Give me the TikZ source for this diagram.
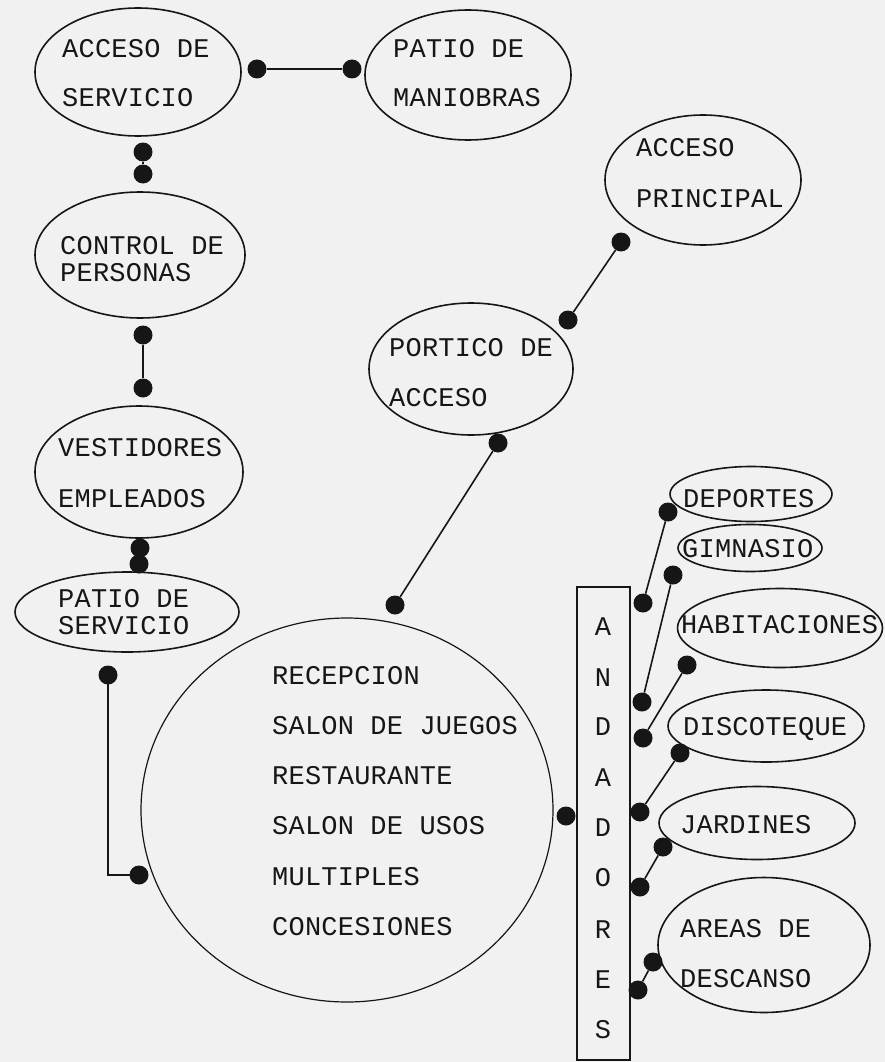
\documentclass[tikz,border=0pt]{standalone}
\usepackage{fontspec}
\newfontfamily\plotfont[LetterSpace=0.8]{Liberation Mono}
\usetikzlibrary{shapes.geometric}
\definecolor{bg}{RGB}{241,241,241}
\definecolor{ink}{RGB}{22,22,22}
\begin{document}
\begin{tikzpicture}[x=1pt,y=-1pt,
  room/.style={ellipse,draw=ink,line width=1.6pt,inner sep=0pt},
  lbl/.style={anchor=base west,inner sep=0pt,font=\plotfont\fontsize{27}{27}\selectfont,text=ink},
  letter/.style={anchor=base,inner sep=0pt,font=\plotfont\fontsize{27}{27}\selectfont,text=ink},
  dot/.style={circle,fill=ink,inner sep=0pt,minimum size=19pt},
  link/.style={draw=ink,line width=1.6pt}]
\fill[bg] (0,0) rectangle (885,1062);
\useasboundingbox (0,0) rectangle (885,1062);

% ---- rooms (left column)
\node[room,minimum width=206pt,minimum height=128pt] (acs) at (138,72) {};
\node[lbl] (acs1) at (62,58) {ACCESO DE};
\node[lbl] (acs2) at (62,107) {SERVICIO};

\node[room,minimum width=206pt,minimum height=130pt] (pm) at (468,75) {};
\node[lbl] (pm1) at (393,58) {PATIO DE};
\node[lbl] (pm2) at (393,107) {MANIOBRAS};

\node[room,minimum width=196pt,minimum height=130pt] (ap) at (703,180) {};
\node[lbl] (ap1) at (636,157) {ACCESO};
\node[lbl] (ap2) at (636,207) {PRINCIPAL};

\node[room,minimum width=204pt,minimum height=132pt] (pa) at (471,369) {};
\node[lbl] (pa1) at (389,356) {PORTICO DE};
\node[lbl] (pa2) at (389,406) {ACCESO};

\node[room,minimum width=210pt,minimum height=126pt] (cp) at (140,255) {};
\node[lbl] (cp1) at (60,254) {CONTROL DE};
\node[lbl] (cp2) at (60,281) {PERSONAS};

\node[room,minimum width=208pt,minimum height=132pt] (ve) at (139,472) {};
\node[lbl] (ve1) at (58,456) {VESTIDORES};
\node[lbl] (ve2) at (58,507) {EMPLEADOS};

\node[room,minimum width=224pt,minimum height=80pt] (ps) at (127,612) {};
\node[lbl] (ps1) at (58,607) {PATIO DE};
\node[lbl] (ps2) at (58,634) {SERVICIO};

% ---- central hub
\node[ellipse,draw=ink,line width=1.2pt,inner sep=0pt,minimum width=412pt,minimum height=384pt] (hub) at (347,810) {};
\node[lbl] (h1) at (272,684) {RECEPCION};
\node[lbl] (h2) at (272,734) {SALON DE JUEGOS};
\node[lbl] (h3) at (272,784) {RESTAURANTE};
\node[lbl] (h4) at (272,834) {SALON DE USOS};
\node[lbl] (h5) at (272,885) {MULTIPLES};
\node[lbl] (h6) at (272,935) {CONCESIONES};

% ---- andadores
\node[rectangle,draw=ink,line width=1.4pt,inner sep=0pt,minimum width=53pt,minimum height=473pt] (and) at (603.5,823.5) {};
\node[letter] (l1) at (603,635) {A};
\node[letter] (l2) at (603,686) {N};
\node[letter] (l3) at (603,735) {D};
\node[letter] (l4) at (603,786) {A};
\node[letter] (l5) at (603,836) {D};
\node[letter] (l6) at (603,886) {O};
\node[letter] (l7) at (603,938) {R};
\node[letter] (l8) at (603,988) {E};
\node[letter] (l9) at (603,1038) {S};

% ---- right rooms
\node[room,minimum width=162pt,minimum height=55pt] (dep) at (751,494) {};
\node[lbl] (dep1) at (683,507) {DEPORTES};
\node[room,minimum width=144pt,minimum height=47pt] (gim) at (750,548) {};
\node[lbl] (gim1) at (682,557) {GIMNASIO};
\node[room,minimum width=205pt,minimum height=79pt] (hab) at (780,628) {};
\node[lbl] (hab1) at (681,633) {HABITACIONES};
\node[room,minimum width=196pt,minimum height=72pt] (dis) at (766,726) {};
\node[lbl] (dis1) at (683,735) {DISCOTEQUE};
\node[room,minimum width=196pt,minimum height=73pt] (jar) at (757,823) {};
\node[lbl] (jar1) at (680,833) {JARDINES};
\node[room,minimum width=212pt,minimum height=135pt] (are) at (764,945) {};
\node[lbl] (are1) at (680,937) {AREAS DE};
\node[lbl] (are2) at (680,987) {DESCANSO};

% ---- dots
\node[dot] (d1a) at (257,69) {};
\node[dot] (d1b) at (352,69) {};
\node[dot] (d2a) at (143,152) {};
\node[dot] (d2b) at (143,174) {};
\node[dot] (d3a) at (143,335) {};
\node[dot] (d3b) at (143,388) {};
\node[dot] (d4a) at (140,548) {};
\node[dot] (d4b) at (139,564) {};
\node[dot] (d5a) at (621,242) {};
\node[dot] (d5b) at (568,320) {};
\node[dot] (d6a) at (498,443) {};
\node[dot] (d6b) at (395,605) {};
\node[dot] (d7a) at (108,675) {};
\node[dot] (d7b) at (139,875) {};
\node[dot] (d8) at (566,816) {};
\node[dot] (e1a) at (668,512) {};
\node[dot] (e1b) at (643,603) {};
\node[dot] (e2a) at (673,575) {};
\node[dot] (e2b) at (642,702) {};
\node[dot] (e3a) at (687,665) {};
\node[dot] (e3b) at (643,738) {};
\node[dot] (e4a) at (680,753) {};
\node[dot] (e4b) at (640,812) {};
\node[dot] (e5a) at (663,847) {};
\node[dot] (e5b) at (640,887) {};
\node[dot] (e6a) at (653,962) {};
\node[dot] (e6b) at (638,990) {};

% ---- connectors
\draw[link] (d1a) -- (d1b);
\draw[link] (d2a) -- (d2b);
\draw[link] (d3a) -- (d3b);
\draw[link] (d4a) -- (d4b);
\draw[link] (d5a) -- (d5b);
\draw[link] (d6a) -- (d6b);
\draw[link] (d7a.center) -- (d7a.center |- d7b.center) -- (d7b.center);
\draw[link] (e1a) -- (e1b);
\draw[link] (e2a) -- (e2b);
\draw[link] (e3a) -- (e3b);
\draw[link] (e4a) -- (e4b);
\draw[link] (e5a) -- (e5b);
\draw[link] (e6a) -- (e6b);
\end{tikzpicture}
\end{document}
